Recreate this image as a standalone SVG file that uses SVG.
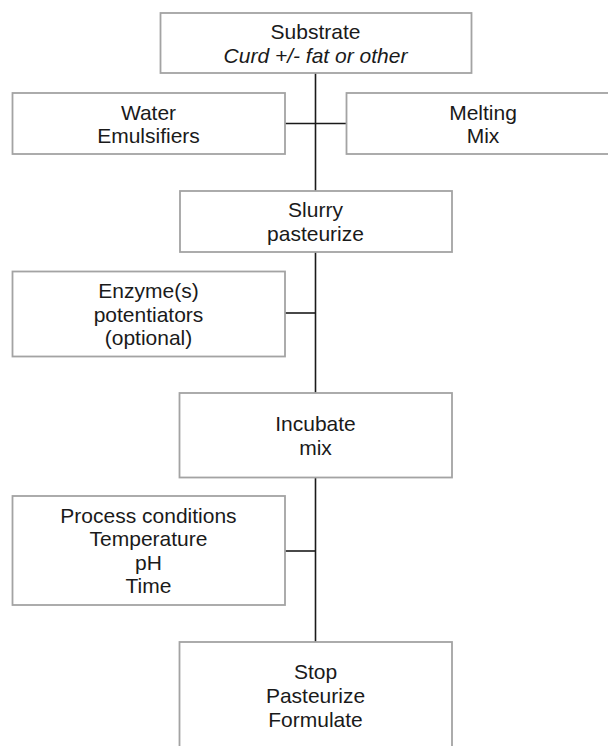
<svg xmlns="http://www.w3.org/2000/svg" width="608" height="746" viewBox="0 0 608 746">
  <style>
    .box { fill: #ffffff; stroke: #a3a3a3; stroke-width: 1.8; }
    .lbl { font-family: "Liberation Sans", Arial, Helvetica, sans-serif; font-size: 21px; fill: #1a1a1a; text-anchor: middle; }
    .it { font-style: italic; }
    .wire { stroke: #1a1a1a; stroke-width: 1.6; fill: none; }
  </style>
  <rect width="608" height="746" fill="#ffffff"/>

  <!-- connectors: main spine and side feeds -->
  <g id="connectors">
    <line class="wire" x1="315.5" y1="73" x2="315.5" y2="642"/>
    <line class="wire" x1="285" y1="123.5" x2="346.5" y2="123.5"/>
    <line class="wire" x1="285" y1="313" x2="315.5" y2="313"/>
    <line class="wire" x1="285" y1="551" x2="315.5" y2="551"/>
  </g>

  <g id="substrate">
    <rect class="box" x="160.5" y="13" width="311" height="60"/>
    <text class="lbl" x="315.5" y="38.5">Substrate</text>
    <text class="lbl it" x="315.5" y="62.5">Curd +/- fat or other</text>
  </g>

  <g id="water">
    <rect class="box" x="12.5" y="93" width="272.5" height="61"/>
    <text class="lbl" x="148.5" y="119.5">Water</text>
    <text class="lbl" x="148.5" y="143">Emulsifiers</text>
  </g>

  <g id="melting">
    <rect class="box" x="346.5" y="93" width="280" height="61"/>
    <text class="lbl" x="483" y="119.5">Melting</text>
    <text class="lbl" x="483" y="143">Mix</text>
  </g>

  <g id="slurry">
    <rect class="box" x="180" y="191" width="272" height="61"/>
    <text class="lbl" x="315.5" y="217">Slurry</text>
    <text class="lbl" x="315.5" y="240.5">pasteurize</text>
  </g>

  <g id="enzymes">
    <rect class="box" x="12.5" y="271.5" width="272.5" height="85"/>
    <text class="lbl" x="148.5" y="298">Enzyme(s)</text>
    <text class="lbl" x="148.5" y="321.5">potentiators</text>
    <text class="lbl" x="148.5" y="345">(optional)</text>
  </g>

  <g id="incubate">
    <rect class="box" x="179.5" y="393" width="272.5" height="84.5"/>
    <text class="lbl" x="315.5" y="431">Incubate</text>
    <text class="lbl" x="315.5" y="454.5">mix</text>
  </g>

  <g id="conditions">
    <rect class="box" x="12.5" y="496" width="272.5" height="109"/>
    <text class="lbl" x="148.5" y="522.5">Process conditions</text>
    <text class="lbl" x="148.5" y="546">Temperature</text>
    <text class="lbl" x="148.5" y="569.5">pH</text>
    <text class="lbl" x="148.5" y="593">Time</text>
  </g>

  <g id="stop">
    <rect class="box" x="179.5" y="642" width="272.5" height="120"/>
    <text class="lbl" x="315.5" y="678.5">Stop</text>
    <text class="lbl" x="315.5" y="702.5">Pasteurize</text>
    <text class="lbl" x="315.5" y="726.5">Formulate</text>
  </g>
</svg>
